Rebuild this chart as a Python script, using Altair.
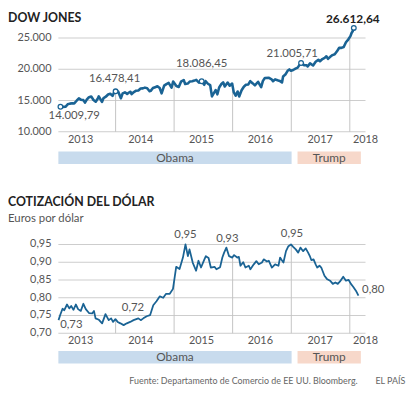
import altair as alt
import pandas as pd
import numpy as np

# ---------------- data ----------------
dow_dates = [
    "2013-01-22", "2013-02-08", "2013-02-22", "2013-03-08", "2013-03-22", "2013-04-05", "2013-04-18",
    "2013-05-03", "2013-05-17", "2013-05-31", "2013-06-14", "2013-06-24", "2013-07-05", "2013-07-19",
    "2013-08-02", "2013-08-16", "2013-08-30", "2013-09-13", "2013-09-18", "2013-10-08", "2013-10-18",
    "2013-11-01", "2013-11-15", "2013-11-29", "2013-12-13", "2013-12-24", "2014-01-01", "2014-01-17",
    "2014-02-03", "2014-02-14", "2014-02-28", "2014-03-14", "2014-03-28", "2014-04-04", "2014-04-11",
    "2014-04-25", "2014-05-09", "2014-05-23", "2014-06-06", "2014-06-20", "2014-07-03", "2014-07-17",
    "2014-08-01", "2014-08-08", "2014-08-22", "2014-09-05", "2014-09-19", "2014-10-03", "2014-10-15",
    "2014-10-31", "2014-11-14", "2014-11-28", "2014-12-16", "2014-12-26", "2015-01-15", "2015-01-30",
    "2015-02-13", "2015-03-02", "2015-03-11", "2015-03-27", "2015-04-10", "2015-04-24", "2015-05-08",
    "2015-05-19", "2015-06-05", "2015-06-22", "2015-07-08", "2015-07-16", "2015-07-31", "2015-08-14",
    "2015-08-25", "2015-09-04", "2015-09-17", "2015-09-28", "2015-10-09", "2015-10-23", "2015-11-03",
    "2015-11-13", "2015-12-01", "2015-12-14", "2015-12-29", "2016-01-08", "2016-01-20", "2016-02-01",
    "2016-02-11", "2016-02-26", "2016-03-11", "2016-03-24", "2016-04-08", "2016-04-20", "2016-05-06",
    "2016-05-19", "2016-06-08", "2016-06-27", "2016-07-08", "2016-07-20", "2016-08-15", "2016-08-31",
    "2016-09-09", "2016-09-22", "2016-10-07", "2016-10-21", "2016-11-04", "2016-11-11", "2016-11-25",
    "2016-12-09", "2016-12-20", "2016-12-30", "2017-01-13", "2017-01-27", "2017-02-10", "2017-02-24",
    "2017-03-03", "2017-03-22", "2017-04-07", "2017-04-13", "2017-04-28", "2017-05-17", "2017-06-02",
    "2017-06-19", "2017-06-29", "2017-07-14", "2017-07-28", "2017-08-08", "2017-08-18", "2017-09-01",
    "2017-09-15", "2017-09-29", "2017-10-13", "2017-10-27", "2017-11-10", "2017-11-24", "2017-12-08",
    "2017-12-22", "2018-01-05", "2018-01-12", "2018-01-19", "2018-01-26",
]
dow_values = [
    14009.79, 13990, 14000, 14397, 14512, 14565, 14537,
    14973, 15354, 15116, 15070, 14660, 15135, 15543,
    15658, 15081, 14810, 15376, 15676, 14776, 15399,
    15615, 15962, 16086, 15755, 16357, 16478.41, 16458,
    15373, 16154, 16322, 16065, 16323, 16412, 16027,
    16361, 16583, 16606, 16924, 16947, 17068, 16976,
    16493, 16553, 17001, 17137, 17280, 17009, 16142,
    17391, 17635, 17828, 17068, 18053, 17320, 17165,
    18019, 18288, 17635, 17713, 18057, 18080, 18191,
    18312, 17849, 18086.45, 17515, 18120, 17690, 17477,
    15666, 16102, 16675, 16001, 17084, 17646, 17918,
    17245, 17888, 17368, 17720, 16346, 15766, 16449,
    15660, 16640, 17213, 17516, 17577, 18096, 17740,
    17435, 18005, 17140, 18147, 18595, 18636, 18401,
    18085, 18392, 18240, 18145, 17888, 18848, 19153,
    19757, 19974, 19763, 19886, 20094, 20269, 20822,
    21005.71, 20661, 20656, 20453, 20941, 20607, 21206,
    21528, 21287, 21638, 21830, 22085, 21675, 21988,
    22268, 22405, 22871, 23434, 23422, 23557, 24329,
    24754, 25295, 25803, 26072, 26612.64,
]

usd_dates = [
    "2013-01-10", "2013-01-21", "2013-02-04", "2013-02-15", "2013-03-04", "2013-03-18", "2013-03-30",
    "2013-04-13", "2013-04-28", "2013-05-12", "2013-05-29", "2013-06-14", "2013-06-29", "2013-07-19",
    "2013-08-08", "2013-08-19", "2013-08-29", "2013-09-19", "2013-10-09", "2013-10-30", "2013-11-19",
    "2013-12-04", "2013-12-16", "2013-12-31", "2014-01-14", "2014-01-31", "2014-02-20", "2014-03-12",
    "2014-04-02", "2014-04-23", "2014-05-23", "2014-06-07", "2014-06-23", "2014-07-14", "2014-08-04",
    "2014-08-24", "2014-09-13", "2014-10-04", "2014-10-25", "2014-11-12", "2014-12-05", "2014-12-25",
    "2015-01-14", "2015-02-04", "2015-02-25", "2015-03-13", "2015-03-28", "2015-04-07", "2015-04-27",
    "2015-05-18", "2015-06-02", "2015-06-18", "2015-07-09", "2015-07-18", "2015-08-04", "2015-08-18",
    "2015-09-10", "2015-09-22", "2015-10-15", "2015-10-29", "2015-11-09", "2015-11-23", "2015-12-10",
    "2015-12-30", "2016-01-10", "2016-01-30", "2016-02-09", "2016-02-19", "2016-03-07", "2016-03-21",
    "2016-04-11", "2016-04-21", "2016-05-12", "2016-05-28", "2016-06-12", "2016-07-02", "2016-07-13",
    "2016-08-02", "2016-08-14", "2016-09-02", "2016-09-22", "2016-10-13", "2016-10-23", "2016-11-02",
    "2016-11-13", "2016-11-29", "2016-12-14", "2016-12-30", "2017-01-13", "2017-01-29", "2017-02-13",
    "2017-02-27", "2017-03-16", "2017-04-01", "2017-04-16", "2017-04-26", "2017-05-06", "2017-05-20",
    "2017-06-02", "2017-06-12", "2017-06-26", "2017-07-07", "2017-07-27", "2017-08-11", "2017-08-31",
    "2017-09-17", "2017-10-03", "2017-10-18", "2017-11-01", "2017-11-21", "2017-12-08", "2017-12-25",
    "2018-01-08", "2018-01-22", "2018-02-08", "2018-02-24",
]
usd_values = [
    0.737, 0.752, 0.769, 0.765, 0.781, 0.770, 0.777,
    0.766, 0.781, 0.768, 0.763, 0.783, 0.768, 0.757,
    0.756, 0.763, 0.742, 0.738, 0.728, 0.754, 0.737,
    0.742, 0.732, 0.740, 0.732, 0.728, 0.723, 0.728,
    0.732, 0.737, 0.742, 0.737, 0.742, 0.748, 0.751,
    0.779, 0.790, 0.804, 0.800, 0.811, 0.811, 0.825,
    0.887, 0.881, 0.913, 0.950, 0.917, 0.936, 0.899,
    0.876, 0.904, 0.885, 0.908, 0.917, 0.912, 0.885,
    0.887, 0.880, 0.886, 0.913, 0.927, 0.941, 0.917,
    0.913, 0.920, 0.913, 0.915, 0.890, 0.900, 0.885,
    0.890, 0.880, 0.894, 0.903, 0.894, 0.899, 0.908,
    0.902, 0.904, 0.885, 0.894, 0.890, 0.913, 0.906,
    0.899, 0.931, 0.945, 0.950, 0.943, 0.936, 0.927,
    0.941, 0.931, 0.939, 0.927, 0.918, 0.906, 0.908,
    0.894, 0.885, 0.890, 0.885, 0.862, 0.853, 0.848,
    0.839, 0.843, 0.839, 0.846, 0.859, 0.848, 0.850,
    0.839, 0.831, 0.820, 0.806,
]

year_labels = ["2013", "2014", "2015", "2016", "2017", "2018"]
year_label_dates = ["2013-05-28", "2014-06-07", "2015-06-21", "2016-06-22", "2017-06-30", "2018-04-09"]
year_boundaries = ["2014-01-01", "2015-01-01", "2016-01-01", "2017-01-01", "2018-01-01"]
x_start, x_end = "2013-01-09", "2018-04-09"

dow_ticks = [10000, 15000, 20000, 25000]
dow_tick_labels = ["10.000", "15.000", "20.000", "25.000"]
usd_ticks = [0.70, 0.75, 0.80, 0.85, 0.90, 0.95]
usd_tick_labels = ["0,70", "0,75", "0,80", "0,85", "0,90", "0,95"]

dow_note_text = ["14.009,79", "16.478,41", "18.086,45", "21.005,71", "26.612,64"]
dow_note_dates = ["2013-01-22", "2014-01-01", "2015-06-22", "2017-03-03", "2018-01-26"]
dow_note_values = [14009.79, 16478.41, 18086.45, 21005.71, 26612.64]

usd_note_text = ["0,73", "0,72", "0,95", "0,93", "0,95", "0,80"]
usd_note_dates = ["2013-01-10", "2014-02-20", "2015-03-13", "2015-11-23", "2016-12-30", "2018-02-24"]
usd_note_values = [0.737, 0.723, 0.950, 0.941, 0.950, 0.806]

presidents = ["Obama", "Trump"]
pres_start = ["2013-01-09", "2017-02-09"]
pres_end = ["2017-01-03", "2018-03-11"]

# ---------------- style ----------------
FONT = "Lato"
LINE = "#1a6394"
GRID = "#cdcdcd"
TXT = "#555555"
W = 311
H_TOP = 95
H_BOT = 90
X_DOMAIN = [alt.DateTime(year=2013, month=1, date=9, utc=True),
            alt.DateTime(year=2018, month=4, date=9, utc=True)]

dow_offsets = [(14, 9.5), (-1, -12), (0, -17), (-9, -9), (-1, -9)]
usd_offsets = [(13, 5), (9.5, -17), (0, -10), (1, -9), (1, -11), (15, -6)]


def panel(dates, values, ticks, tick_labels, ydomain, height, stroke_w,
          note_text, note_dates, note_values, offsets, markers, bar_y, titles, extra_texts):
    df = pd.DataFrame({"date": pd.to_datetime(dates), "value": values})
    yscale = alt.Scale(domain=ydomain, nice=False, zero=False, padding=0)
    xscale = alt.Scale(domain=X_DOMAIN, padding=0)

    # horizontal grid as 1px-thick horizontal bars spanning the x domain
    gdf = pd.DataFrame({"value": ticks, "label": tick_labels,
                        "date": pd.to_datetime([x_start] * len(ticks)),
                        "date_end": pd.to_datetime([x_end] * len(ticks))})
    grid = alt.Chart(gdf).mark_bar(color=GRID, size=1, opacity=1).encode(
        x=alt.X("date:T", scale=xscale, axis=None, title=None), x2="date_end:T",
        y=alt.Y("value:Q", scale=yscale, axis=None, title=None))
    ylabels = alt.Chart(gdf).mark_text(font=FONT, fontSize=11, color=TXT, align="right",
                                       baseline="middle", dx=-7).encode(
        y=alt.Y("value:Q", title=None), x=alt.value(0), text="label:N")

    # year labels under the plot
    ydf = pd.DataFrame({"date": pd.to_datetime(year_label_dates), "label": year_labels})
    xlabels = alt.Chart(ydf).mark_text(font=FONT, fontSize=11, color=TXT, align="center",
                                       baseline="middle").encode(
        x=alt.X("date:T", title=None),
        y=alt.value(height + 8.3), text="label:N")

    line = alt.Chart(df).mark_line(color=LINE, strokeWidth=stroke_w, strokeJoin="round").encode(
        x=alt.X("date:T", title=None), y=alt.Y("value:Q", title=None))

    # year boundary rules from the baseline up to the series
    t = df["date"].astype("int64").to_numpy()
    b = pd.to_datetime(year_boundaries)
    tops = np.interp(b.astype("int64").to_numpy(), t, df["value"].to_numpy())
    rdf = pd.DataFrame({"date": b, "value": [ydomain[0]] * len(b), "top": tops})
    rules = alt.Chart(rdf).mark_rule(color="#c4c4c4", strokeWidth=1).encode(
        x=alt.X("date:T", title=None), y=alt.Y("value:Q", title=None), y2="top:Q")

    layers = [grid, ylabels, xlabels, rules, line]

    if markers:
        mdf = pd.DataFrame({"date": pd.to_datetime(note_dates), "value": note_values})
        layers.append(alt.Chart(mdf).mark_point(shape="circle", filled=True, fill="white",
                                                stroke=LINE, strokeWidth=1.3, size=22, opacity=1)
                      .encode(x=alt.X("date:T", title=None), y=alt.Y("value:Q", title=None)))

    for i, (txt, d, v) in enumerate(zip(note_text, note_dates, note_values)):
        ndf = pd.DataFrame({"date": [pd.to_datetime(d)], "value": [v], "label": [txt]})
        dx, dy = offsets[i]
        bold = markers and i == len(note_text) - 1
        layers.append(alt.Chart(ndf).mark_text(
            dx=dx, dy=dy, font=FONT, fontSize=12 if bold else 11.5,
            fontWeight="bold" if bold else "normal", color="#222222" if bold else TXT,
            align="center", baseline="middle").encode(
            x=alt.X("date:T", title=None), y=alt.Y("value:Q", title=None), text="label:N"))

    # presidents band
    pdf = pd.DataFrame({"name": presidents, "start": pd.to_datetime(pres_start),
                        "end": pd.to_datetime(pres_end)})
    pdf["mid"] = pdf["start"] + (pdf["end"] - pdf["start"]) / 2
    layers.append(alt.Chart(pdf).mark_rect().encode(
        x=alt.X("start:T", title=None), x2="end:T",
        y=alt.value(bar_y), y2=alt.value(bar_y + 12.5),
        color=alt.Color("name:N", scale=alt.Scale(domain=presidents, range=["#c8dbed", "#f7d8ca"]),
                        legend=None)))
    layers.append(alt.Chart(pdf).mark_text(font=FONT, fontSize=12, color=TXT, baseline="middle").encode(
        x=alt.X("mid:T", title=None), y=alt.value(bar_y + 6.5), text="name:N"))

    for (txt, xv, yv, size, weight, col, align) in titles + extra_texts:
        layers.append(alt.Chart(pd.DataFrame({"t": [txt]})).mark_text(
            font=FONT, fontSize=size, fontWeight=weight, color=col, align=align,
            baseline="alphabetic").encode(x=alt.value(xv), y=alt.value(yv), text="t:N"))

    return alt.layer(*layers).properties(width=W, height=height)


top = panel(dow_dates, dow_values, dow_ticks, dow_tick_labels, [10000, 25000], H_TOP, 2.6,
            dow_note_text, dow_note_dates, dow_note_values, dow_offsets, True, 115,
            [("DOW JONES", -51, -16, 12.5, "bold", "#222222", "left")], [])

bottom = panel(usd_dates, usd_values, usd_ticks, usd_tick_labels, [0.70, 0.95], H_BOT, 1.8,
               usd_note_text, usd_note_dates, usd_note_values, usd_offsets, False, 108,
               [("COTIZACIÓN DEL DÓLAR", -51, -39, 12.5, "bold", "#222222", "left"),
                ("Euros por dólar", -51, -23, 11.5, "normal", TXT, "left")],
               [("Fuente: Departamento de Comercio de EE UU. Bloomberg.", 303, 141, 9, "normal", "#666666", "right"),
                ("EL PAÍS", 321, 141, 9, "normal", "#666666", "left")])

chart = alt.vconcat(top, bottom, spacing=114, bounds="flush").properties(
    padding={"left": 0, "top": 2, "right": 0, "bottom": 0}
).configure_view(stroke=None)

chart.save("out.html", embed_options={"renderer": "svg", "actions": False})
